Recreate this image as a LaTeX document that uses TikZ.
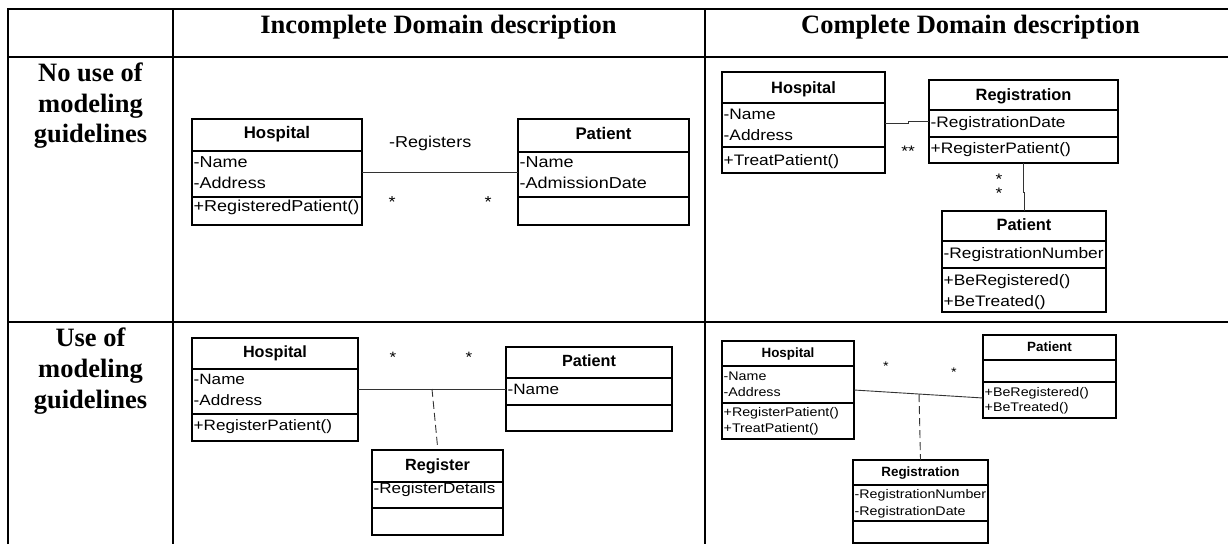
\documentclass[tikz,border=0pt]{standalone}
\usepackage{fontspec}
\setmainfont{Liberation Serif}
\newfontfamily\umlfont[FakeStretch=1.14]{Liberation Sans}
\newfontfamily\umltitlefont{Liberation Sans}
\newfontfamily\hdrfont{Liberation Serif}
\newcommand\umlclass[7]{%
  \node[classbox, minimum width={#3-#2}, minimum height={#7-#4}] (#1) at (#2,#4) {};
  \draw[sepline] (#2,#5) -- (#3,#5);
  \draw[sepline] (#2,#6) -- (#3,#6);
}
\tikzset{
  tbl/.style={line width=2.5pt},
  classbox/.style={draw, line width=1.1pt, inner sep=0pt, outer sep=0pt, anchor=north west},
  sepline/.style={line width=1.1pt},
  txt/.style={anchor=base west, inner sep=0pt},
  ttl/.style={anchor=base, inner sep=0pt},
  star/.style={anchor=base, inner sep=0pt},
  assoc/.style={line width=0.9pt, black!80},
  linkline/.style={line width=0.9pt, black!80, dash pattern=on 8pt off 4pt},
  hdr/.style={anchor=base, inner sep=0pt, font=\hdrfont\bfseries\fontsize{26.5}{31}\selectfont},
  fA/.style={font=\umlfont\fontsize{15.8}{19}\selectfont},
  tA/.style={font=\umltitlefont\bfseries\fontsize{16.8}{20}\selectfont},
  fB/.style={font=\umlfont\fontsize{15.2}{18}\selectfont},
  tB/.style={font=\umltitlefont\bfseries\fontsize{16.4}{20}\selectfont},
  fC/.style={font=\umlfont\fontsize{15}{18}\selectfont},
  tC/.style={font=\umltitlefont\bfseries\fontsize{16.2}{20}\selectfont},
  fD/.style={font=\umlfont\fontsize{12.5}{15}\selectfont},
  tD/.style={font=\umltitlefont\bfseries\fontsize{13.4}{16}\selectfont},
}
\begin{document}
\begin{tikzpicture}[x=1pt,y=-1pt]
\useasboundingbox[fill=white] (0,0) rectangle (1228,544);
% table
\draw[tbl] (8,544) -- (8,9) -- (1228,9);
\draw[tbl] (8,57) -- (1228,57);
\draw[tbl] (8,322) -- (1228,322);
\draw[tbl] (173,9) -- (173,544);
\draw[tbl] (705,9) -- (705,544);
% headers
\node[hdr] (h1) at (438.5,33.5) {Incomplete Domain description};
\node[hdr] (h2) at (970.5,33.5) {Complete Domain description};
\node[hdr] (r1a) at (90.5,81.5) {No use of};
\node[hdr] (r1b) at (90.5,112) {modeling};
\node[hdr] (r1c) at (90.5,142.5) {guidelines};
\node[hdr] (r2a) at (90.5,346) {Use of};
\node[hdr] (r2b) at (90.5,377) {modeling};
\node[hdr] (r2c) at (90.5,408) {guidelines};

% ---- top-left
\umlclass{A}{192}{362}{119}{151}{197}{225}
\node[ttl,tA] (At) at (277,138) {Hospital};
\node[txt,fA] (A1) at (193.5,167) {-Name};
\node[txt,fA] (A2) at (193.5,188) {-Address};
\node[txt,fA] (A3) at (193.5,211) {+RegisteredPatient()};
\umlclass{B}{518}{689}{119}{152}{197}{225}
\node[ttl,tA] (Bt) at (603.5,139) {Patient};
\node[txt,fA] (B1) at (519.5,167) {-Name};
\node[txt,fA] (B2) at (519.5,188) {-AdmissionDate};
\draw[assoc] (A.east |- 0,172) -- (B.west |- 0,172);
\node[txt,fA] (ABl) at (389,147) {-Registers};
\node[star,fA] (ABs1) at (392,207) {*};
\node[star,fA] (ABs2) at (488,207) {*};

% ---- top-right
\umlclass{C}{722}{885}{72}{103}{147}{173}
\node[ttl,tB] (Ct) at (803.5,93) {Hospital};
\node[txt,fB] (C1) at (723.5,119.5) {-Name};
\node[txt,fB] (C2) at (723.5,140) {-Address};
\node[txt,fB] (C3) at (723.5,165) {+TreatPatient()};
\umlclass{D}{929}{1118}{80}{110}{137}{163}
\node[ttl,tB] (Dt) at (1023.5,100) {Registration};
\node[txt,fB] (D1) at (930.5,127.5) {-RegistrationDate};
\node[txt,fB] (D2) at (930.5,153.5) {+RegisterPatient()};
\umlclass{E}{942}{1106}{211}{241}{268}{312}
\node[ttl,tB] (Et) at (1024,230.5) {Patient};
\node[txt,fB] (E1) at (943.5,258.5) {-RegistrationNumber};
\node[txt,fB] (E2) at (943.5,285) {+BeRegistered()};
\node[txt,fB] (E3) at (943.5,306) {+BeTreated()};
\coordinate (cd1) at (908,123);
\coordinate (cd2) at (908,121);
\draw[assoc] (C.east |- cd1) -- (cd1) -- (cd2) -- (D.west |- cd2);
\draw[assoc] (D.south) -- ++(0,29) -| (E.north);
\node[star,fB] (CDs) at (908,156) {**};
\node[star,fB] (DEs1) at (999,184) {*};
\node[star,fB] (DEs2) at (999,198) {*};

% ---- bottom-left
\umlclass{F}{192}{358}{338}{369}{414}{441}
\node[ttl,tC] (Ft) at (275,357) {Hospital};
\node[txt,fC] (F1) at (193.5,384) {-Name};
\node[txt,fC] (F2) at (193.5,405) {-Address};
\node[txt,fC] (F3) at (193.5,430.5) {+RegisterPatient()};
\umlclass{G}{506}{672}{347}{378}{405}{431}
\node[ttl,tC] (Gt) at (589,366.5) {Patient};
\node[txt,fC] (G1) at (507.5,394) {-Name};
\umlclass{H}{372}{503}{450}{482}{508}{535}
\node[ttl,tC] (Ht) at (437.5,470) {Register};
\node[txt,fC] (H1) at (373.5,493.5) {-RegisterDetails};
\draw[assoc] (F.east |- 0,389) -- (G.west |- 0,389);
\coordinate (fg) at (432,389);
\draw[linkline] (fg) -- ([yshift=4pt]H.north);
\node[star,fC] (FGs1) at (393,362) {*};
\node[star,fC] (FGs2) at (469,362) {*};

% ---- bottom-right
\umlclass{I}{722}{854}{341}{366}{403}{439}
\node[ttl,tD] (It) at (788,357) {Hospital};
\node[txt,fD] (I1) at (723.5,380) {-Name};
\node[txt,fD] (I2) at (723.5,396) {-Address};
\node[txt,fD] (I3) at (723.5,416.5) {+RegisterPatient()};
\node[txt,fD] (I4) at (723.5,432.5) {+TreatPatient()};
\umlclass{J}{983}{1116}{335}{360}{382}{418}
\node[ttl,tD] (Jt) at (1049.5,351) {Patient};
\node[txt,fD] (J1) at (984.5,396) {+BeRegistered()};
\node[txt,fD] (J2) at (984.5,411.5) {+BeTreated()};
\umlclass{K}{853}{988}{460}{485}{521}{543}
\node[ttl,tD] (Kt) at (920.5,476) {Registration};
\node[txt,fD] (K1) at (854.5,498.5) {-RegistrationNumber};
\node[txt,fD] (K2) at (854.5,515) {-RegistrationDate};
\draw[assoc] (I.east |- 0,390) -- coordinate[pos=0.504] (ij) (J.west |- 0,398);
\draw[linkline] (ij) -- (K.north);
\node[star,fD] (IJs1) at (886,370) {*};
\node[star,fD] (IJs2) at (954,376) {*};
\end{tikzpicture}
\end{document}
